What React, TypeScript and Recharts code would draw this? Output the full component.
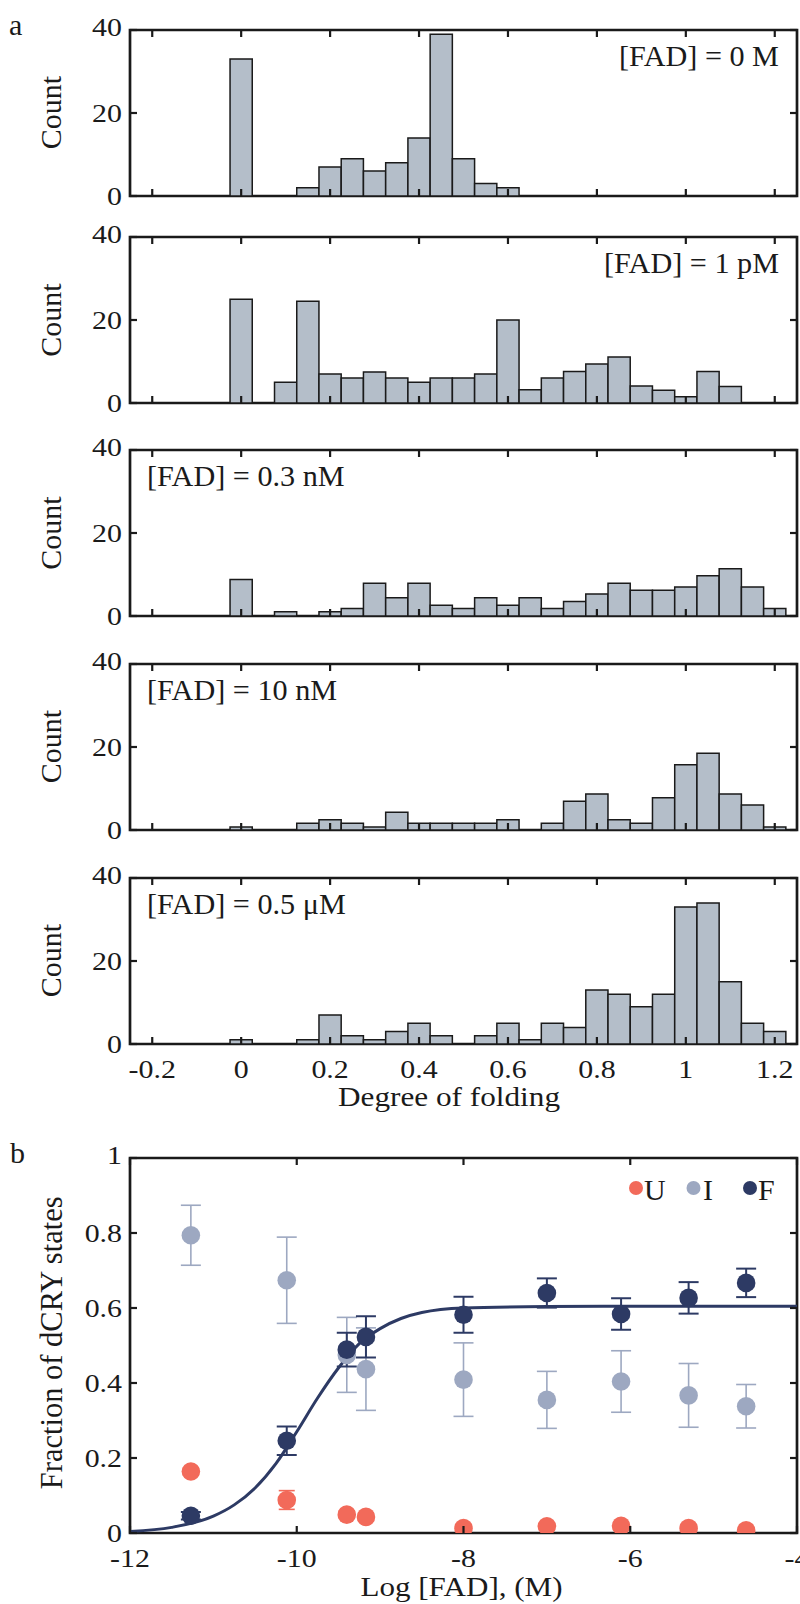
import React from 'react';
import {
  BarChart,
  Bar,
  XAxis,
  YAxis,
  ReferenceArea,
  ComposedChart,
  Line,
  Scatter,
  ErrorBar,
} from 'recharts';

// ---------------- data ----------------
const BIN_CENTERS = [
  -0.2, -0.15, -0.1, -0.05, 0, 0.05, 0.1, 0.15, 0.2, 0.25, 0.3, 0.35, 0.4, 0.45, 0.5,
  0.55, 0.6, 0.65, 0.7, 0.75, 0.8, 0.85, 0.9, 0.95, 1, 1.05, 1.1, 1.15, 1.2,
];

const COUNTS_0M = [0, 0, 0, 0, 33, 0, 0, 2, 7, 9, 6, 8, 14, 39, 9, 3, 2, 0, 0, 0, 0, 0, 0, 0, 0, 0, 0, 0, 0];
const COUNTS_1PM = [0, 0, 0, 0, 25, 0, 5, 24.5, 7, 6, 7.5, 6, 5, 6, 6, 7, 20, 3.2, 6, 7.6, 9.4, 11.1, 4.1, 3.1, 1.5, 7.6, 4, 0, 0];
const COUNTS_03NM = [0, 0, 0, 0, 8.8, 0, 1, 0, 1, 1.8, 7.9, 4.4, 7.9, 2.6, 1.8, 4.4, 2.6, 4.4, 1.8, 3.5, 5.3, 7.9, 6.2, 6.2, 7, 9.7, 11.4, 7, 1.8];
const COUNTS_10NM = [0, 0, 0, 0, 0.7, 0, 0, 1.6, 2.5, 1.6, 0.7, 4.3, 1.6, 1.6, 1.6, 1.6, 2.5, 0, 1.6, 6.9, 8.7, 2.5, 1.6, 7.8, 15.7, 18.5, 8.7, 6, 0.7];
const COUNTS_05UM = [0, 0, 0, 0, 1, 0, 0, 1, 7, 2, 1, 3, 5, 2, 0, 2, 5, 1, 5, 4, 13, 12, 9, 12, 33, 34, 15, 5, 3];

const HIST_LABELS = ['[FAD] = 0 M', '[FAD] = 1 pM', '[FAD] = 0.3 nM', '[FAD] = 10 nM', '[FAD] = 0.5 \u03bcM'];

const X_TICKS_A = [-0.2, 0, 0.2, 0.4, 0.6, 0.8, 1, 1.2];
const Y_TICKS_A = [0, 20, 40];

const CONC_LOG = [-11.27, -10.12, -9.4, -9.17, -8.0, -7.0, -6.11, -5.3, -4.61];
const FRAC_U = [0.164, 0.088, 0.049, 0.043, 0.013, 0.018, 0.019, 0.013, 0.007];
const ERR_U = [0.01, 0.025, 0.01, 0.01, 0.005, 0.005, 0.005, 0.005, 0.005];
const FRAC_I = [0.794, 0.674, 0.475, 0.437, 0.409, 0.355, 0.404, 0.367, 0.338];
const ERR_I = [0.08, 0.115, 0.1, 0.11, 0.098, 0.076, 0.082, 0.085, 0.058];
const FRAC_F = [0.046, 0.246, 0.489, 0.523, 0.582, 0.64, 0.584, 0.627, 0.667];
const ERR_F = [0.01, 0.038, 0.045, 0.055, 0.048, 0.039, 0.042, 0.042, 0.038];

const FIT_X = [-12, -11.5, -11, -10.75, -10.5, -10.25, -10, -9.75, -9.5, -9.25, -9, -8.75, -8.5, -8, -7, -6, -5, -4];
const FIT_Y = [0.004, 0.015, 0.045, 0.075, 0.12, 0.185, 0.27, 0.36, 0.44, 0.505, 0.545, 0.572, 0.588, 0.6, 0.604, 0.605, 0.605, 0.605];

const X_TICKS_B = [-12, -10, -8, -6, -4];
const Y_TICKS_B = [0, 0.2, 0.4, 0.6, 0.8, 1];

// ---------------- style ----------------
const FONT = '"Liberation Serif", "Times New Roman", Times, serif';
const INK = '#1a1a1a';
const BAR_FILL = '#b4bec9';
const C_U = '#f26a5a';
const C_I = '#9da8c1';
const C_F = '#2d3a64';
const TL = 7;
const SX = 1.15;
const TICK_FS = 26;
const PLOT_LEFT = 130;
const PLOT_RIGHT = 797;
const MT = 30;
const HIST_H = 166;
const HIST_TOPS = [29.5, 237, 450, 663.5, 877.5];
const B_TOP = 1158.3;
const B_H = 375;

const fmt = (v: number) => String(v);

function XTick(props: any) {
  const { x, y, payload, plotH, showLabel } = props;
  const top = y - plotH;
  return (
    <g>
      <line x1={x} x2={x} y1={y} y2={y - TL} stroke={INK} strokeWidth={2.2} />
      <line x1={x} x2={x} y1={top} y2={top + TL} stroke={INK} strokeWidth={2.2} />
      {showLabel && (
        <text
          transform={`translate(${x},${y + 33.5}) scale(${SX},1)`}
          textAnchor="middle"
          fontFamily={FONT}
          fontSize={TICK_FS}
          fill={INK}
        >
          {fmt(payload.value)}
        </text>
      )}
    </g>
  );
}

function YTick(props: any) {
  const { x, y, payload, maxVal } = props;
  const shift = payload.value === maxVal ? -3 : 0;
  return (
    <g>
      <line x1={x} x2={x + TL} y1={y} y2={y} stroke={INK} strokeWidth={2.2} />
      <line x1={PLOT_RIGHT - TL} x2={PLOT_RIGHT} y1={y} y2={y} stroke={INK} strokeWidth={2.2} />
      <text
        transform={`translate(${x - 8},${y + 8.8 + shift}) scale(${SX},1)`}
        textAnchor="end"
        fontFamily={FONT}
        fontSize={TICK_FS}
        fill={INK}
      >
        {fmt(payload.value)}
      </text>
    </g>
  );
}

const HISTS = [COUNTS_0M, COUNTS_1PM, COUNTS_03NM, COUNTS_10NM, COUNTS_05UM];

function Histogram({ counts, idx }: { counts: number[]; idx: number }) {
  const rows = BIN_CENTERS.map((b, i) => ({ x: b, c: counts[i] }));
  const showLabel = idx === HISTS.length - 1;
  return (
    <BarChart
      width={800}
      height={MT + HIST_H + 50}
      data={rows}
      margin={{ top: MT, right: 800 - PLOT_RIGHT, bottom: 0, left: 0 }}
    >
      <XAxis
        type="number"
        dataKey="x"
        domain={[-0.25, 1.25]}
        allowDataOverflow
        ticks={X_TICKS_A}
        interval={0}
        height={50}
        axisLine={false}
        tickLine={false}
        tickSize={0}
        tickMargin={0}
        tick={(p: any) => <XTick {...p} plotH={HIST_H} showLabel={showLabel} />}
      />
      <YAxis
        type="number"
        domain={[0, 40]}
        allowDataOverflow
        ticks={Y_TICKS_A}
        interval={0}
        width={PLOT_LEFT}
        axisLine={false}
        tickLine={false}
        tickSize={0}
        tickMargin={0}
        tick={(p: any) => <YTick {...p} maxVal={40} />}
      />
      <Bar dataKey="c" fill={BAR_FILL} stroke={INK} strokeWidth={1.5} barSize={22.2} isAnimationActive={false} />
      <ReferenceArea
        x1={-0.25}
        x2={1.25}
        y1={0}
        y2={40}
        fill="none"
        fillOpacity={0}
        stroke={INK}
        strokeWidth={2.7}
        ifOverflow="visible"
      />
    </BarChart>
  );
}

function Dot(color: string) {
  return (p: any) => <circle cx={p.cx} cy={p.cy} r={9.3} fill={color} />;
}

function PanelB() {
  const fit = FIT_X.map((x, i) => ({ x, y: FIT_Y[i] }));
  const u = CONC_LOG.map((x, i) => ({ x, y: FRAC_U[i], e: ERR_U[i] }));
  const iv = CONC_LOG.map((x, i) => ({ x, y: FRAC_I[i], e: ERR_I[i] }));
  const f = CONC_LOG.map((x, i) => ({ x, y: FRAC_F[i], e: ERR_F[i] }));
  return (
    <ComposedChart
      width={800}
      height={MT + B_H + 50}
      margin={{ top: MT, right: 800 - PLOT_RIGHT, bottom: 0, left: 0 }}
    >
      <XAxis
        type="number"
        dataKey="x"
        domain={[-12, -4]}
        allowDataOverflow
        ticks={X_TICKS_B}
        interval={0}
        height={50}
        axisLine={false}
        tickLine={false}
        tickSize={0}
        tickMargin={0}
        tick={(p: any) => <XTick {...p} plotH={B_H} showLabel={true} />}
      />
      <YAxis
        type="number"
        dataKey="y"
        domain={[0, 1]}
        allowDataOverflow
        ticks={Y_TICKS_B}
        interval={0}
        width={PLOT_LEFT}
        axisLine={false}
        tickLine={false}
        tickSize={0}
        tickMargin={0}
        tick={(p: any) => <YTick {...p} maxVal={1} />}
      />
      <Scatter data={iv} dataKey="y" shape={Dot(C_I)} isAnimationActive={false}>
        <ErrorBar dataKey="e" direction="y" width={10} stroke={C_I} strokeWidth={1.6} />
      </Scatter>
      <Scatter data={u} dataKey="y" shape={Dot(C_U)} isAnimationActive={false}>
        <ErrorBar dataKey="e" direction="y" width={8} stroke={C_U} strokeWidth={1.6} />
      </Scatter>
      <Line
        data={fit}
        dataKey="y"
        type="monotone"
        stroke={C_F}
        strokeWidth={3}
        dot={false}
        activeDot={false}
        isAnimationActive={false}
      />
      <Scatter data={f} dataKey="y" shape={Dot(C_F)} isAnimationActive={false}>
        <ErrorBar dataKey="e" direction="y" width={10} stroke={C_F} strokeWidth={2} />
      </Scatter>
      <ReferenceArea
        x1={-12}
        x2={-4}
        y1={0}
        y2={1}
        fill="none"
        fillOpacity={0}
        stroke={INK}
        strokeWidth={2.7}
        ifOverflow="visible"
      />
    </ComposedChart>
  );
}

function Overlay() {
  const txt = { fontFamily: FONT, fill: INK } as const;
  return (
    <svg
      width={800}
      height={1604}
      style={{ position: 'absolute', left: 0, top: 0, pointerEvents: 'none' }}
    >
      <text x={9} y={35} fontSize={30} {...txt}>a</text>
      <text x={10} y={1162.5} fontSize={30} {...txt}>b</text>
      {HIST_TOPS.map((t, i) => (
        <text
          key={'c' + i}
          transform={`translate(61,${t + HIST_H / 2}) rotate(-90)`}
          textAnchor="middle"
          fontSize={30}
          {...txt}
        >
          Count
        </text>
      ))}
      {HIST_LABELS.map((lab, i) => {
        const right = i < 2;
        const ax = right ? 779 : 147;
        return (
          <text
            key={'l' + i}
            x={ax}
            y={HIST_TOPS[i] + 36.5}
            textAnchor={right ? 'end' : 'start'}
            fontSize={28.5}
            transform={`translate(${ax},0) scale(1.06,1) translate(${-ax},0)`}
            {...txt}
          >
            {lab}
          </text>
        );
      })}
      <text x={449} y={1106} textAnchor="middle" fontSize={26.5} textLength={222} lengthAdjust="spacingAndGlyphs" {...txt}>
        Degree of folding
      </text>
      <text
        transform={`translate(62,${B_TOP + B_H / 2 - 3}) rotate(-90)`}
        textAnchor="middle"
        fontSize={30.5}
        {...txt}
      >
        Fraction of dCRY states
      </text>
      <text x={461.5} y={1596} textAnchor="middle" fontSize={28} textLength={202} lengthAdjust="spacingAndGlyphs" {...txt}>
        Log [FAD], (M)
      </text>
      {/* legend */}
      <circle cx={636} cy={1188} r={7} fill={C_U} />
      <text x={644} y={1200} fontSize={30} {...txt}>U</text>
      <circle cx={693.5} cy={1188} r={7} fill={C_I} />
      <text x={703} y={1200} fontSize={30} {...txt}>I</text>
      <circle cx={750} cy={1188} r={7} fill={C_F} />
      <text x={758} y={1200} fontSize={30} {...txt}>F</text>
    </svg>
  );
}

export default function App() {
  return (
    <div style={{ position: 'absolute', left: 0, top: 0, width: 800, height: 1604, background: '#fff' }}>
      {HISTS.map((h, i) => (
        <div key={i} style={{ position: 'absolute', left: 0, top: HIST_TOPS[i] - MT }}>
          <Histogram counts={h} idx={i} />
        </div>
      ))}
      <div style={{ position: 'absolute', left: 0, top: B_TOP - MT }}>
        <PanelB />
      </div>
      <Overlay />
    </div>
  );
}
